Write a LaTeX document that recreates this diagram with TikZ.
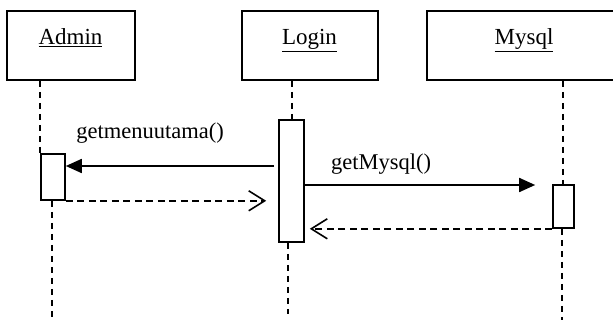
\documentclass[tikz,border=0pt]{standalone}
\usepackage{fontspec}
\setmainfont{Liberation Serif}
\usetikzlibrary{arrows.meta}
\begin{document}
\begin{tikzpicture}[x=1pt,y=-1pt,
  objbox/.style={draw,line width=1.6pt,minimum width=#1,minimum height=69pt,inner sep=0pt},
  actbox/.style={draw,line width=1.6pt,fill=white,inner sep=0pt},
  objname/.style={anchor=base,inner sep=0pt,font=\fontsize{23}{27}\selectfont},
  msglabel/.style={anchor=base,inner sep=0pt,font=\fontsize{22.5}{27}\selectfont},
  lifeline/.style={line width=1.5pt,dash pattern=on 6pt off 5pt},
  callmsg/.style={line width=1.8pt,-{Triangle[length=16pt,width=14pt]}},
  retmsg/.style={line width=1.5pt,dash pattern=on 7pt off 4.5pt,-{Straight Barb[length=16pt,width=20pt,line width=1.6pt]}}
]
\useasboundingbox (0,0) rectangle (613,320);
\clip (0,0) rectangle (613,320);
\fill[white] (0,0) rectangle (613,320);

% object boxes
\node[objbox=128pt] (aBox) at (71,45.5) {};
\node[objbox=136pt] (lBox) at (310,45.5) {};
\node[objbox=195pt] (mBox) at (524.5,45.5) {};
\node[objname] (aName) at (70.5,45) {\underline{Admin}};
\node[objname] (lName) at (309.5,45) {\underline{Login}};
\node[objname] (mName) at (524,45) {\underline{Mysql}};

% activation boxes
\node[actbox,minimum width=24pt,minimum height=46pt] (aAct) at (53,177) {};
\node[actbox,minimum width=25pt,minimum height=122pt] (lAct) at (291.5,181) {};
\node[actbox,minimum width=21pt,minimum height=43pt] (mAct) at (563.5,206.5) {};

% lifelines
\coordinate (aEnd) at (52,320);
\coordinate (lEnd) at (288,314);
\coordinate (mEnd) at (562,320);
\draw[lifeline] (aBox.south -| aAct.west) -- (aAct.north west);
\draw[lifeline] (aAct.south) ++(-1,0) -- (aEnd);
\draw[lifeline] (aBox.south -| lAct.north) ++(0.5,0) -- ([xshift=0.5pt]lAct.north);
\draw[lifeline] ([xshift=-3.5pt]lAct.south) -- (lEnd);
\draw[lifeline] (mBox.south -| mAct.north) ++(-0.5,0) -- ([xshift=-0.5pt]mAct.north);
\draw[lifeline] ([xshift=-1.5pt]mAct.south) -- (mEnd);

% messages
\draw[callmsg] ([xshift=-4pt]lAct.west |- 0,166) -- (aAct.east |- 0,166);
\node[msglabel] (m1) at (150,139) {getmenuutama()};
\draw[retmsg] (aAct.south east) -- ([xshift=-12pt]lAct.west |- aAct.south east);
\draw[callmsg] (lAct.east |- 0,185) -- ([xshift=-17pt]mAct.west |- 0,185);
\node[msglabel] (m2) at (381,170) {getMysql()};
\draw[retmsg] (mAct.south west) -- ([xshift=5pt]lAct.east |- mAct.south west);
\end{tikzpicture}
\end{document}
